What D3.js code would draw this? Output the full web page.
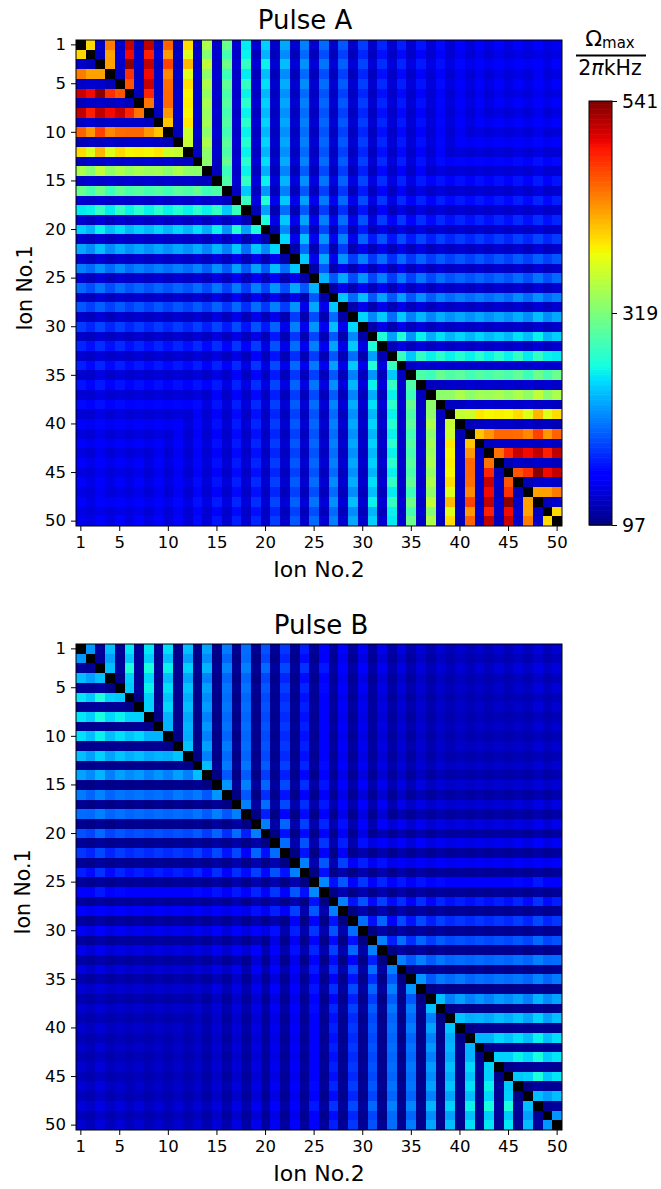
<!DOCTYPE html>
<html><head><meta charset="utf-8">
<script src="https://cdn.jsdelivr.net/npm/d3@7/dist/d3.min.js"></script>
<style>html,body{margin:0;padding:0;background:#fff}svg{display:block}text{font-family:"DejaVu Sans",sans-serif;fill:#000}</style>
</head><body><svg id="c" width="661" height="1189"></svg>
<script>
// Each row: one ion-2 column (2..50), values for ion-1 = 1.. up to the anti-diagonal (kHz).
// The rest of the matrix follows from the picture's mirror symmetries.
const pulseA = [
[399],
[125,120],
[443,425,425],
[124,128,126,118],
[514,497,537,479,461],
[120,125,126,122,125,118],
[517,487,517,497,514,484,447],
[122,128,122,125,125,125,125,120],
[455,430,470,437,450,452,452,430,408],
[118,122,120,125,122,126,124,126,122,118],
[397,372,415,372,397,385,388,385,392,362,358],
[122,126,124,128,126,128,126,128,126,128,122,122],
[345,325,355,330,345,332,343,336,340,328,345,330,328],
[124,128,125,129,126,128,126,128,126,128,124,126,122,120],
[310,290,312,285,305,292,300,290,298,288,302,295,308,285,295],
[128,124,130,124,128,125,128,124,128,124,128,124,130,124,128,122],
[255,258,280,255,280,258,275,258,275,258,272,258,275,258,280,240,283],
[128,120,130,120,128,122,128,122,128,122,128,122,130,120,132,120,134,117],
[243,231,258,235,250,232,243,233,245,232,245,232,250,228,258,218,270,222,268],
[126,120,128,120,127,122,127,122,127,122,127,122,128,120,132,120,138,116,136,113],
[226,213,235,213,228,215,225,215,225,215,225,215,228,210,232,208,240,200,240,212,246],
[128,120,130,120,128,122,128,122,128,122,128,122,130,120,133,120,138,117,138,116,138,113],
[208,198,215,198,213,198,208,200,208,200,208,198,210,192,215,190,222,190,224,190,235,198,240],
[128,120,130,120,128,122,128,122,128,122,128,122,130,120,134,120,140,118,140,118,142,116,138,112],
[198,186,203,186,200,188,197,188,197,188,197,188,200,184,204,180,206,178,208,182,218,185,226,190,231],
[126,120,130,120,128,122,128,122,128,122,128,122,130,120,134,120,140,118,140,118,140,116,138,114],
[190,180,194,180,192,180,190,180,190,180,190,180,192,178,195,176,198,172,200,176,208,178,216],
[126,120,130,120,128,122,128,122,128,122,128,122,130,120,134,120,138,118,138,118,138,116],
[178,168,182,168,180,168,178,168,178,168,178,168,180,165,182,163,185,160,188,162,195],
[126,122,130,122,128,122,128,122,128,122,128,122,130,122,134,122,136,120,136,118],
[168,158,172,158,170,158,168,158,168,158,168,158,170,155,172,153,175,150,178],
[128,124,132,124,130,124,130,124,130,124,130,124,132,124,134,122,136,120],
[165,155,168,155,165,155,163,155,163,155,163,155,165,152,167,150,170],
[128,126,134,126,132,126,130,126,130,126,130,126,132,124,136,124],
[160,150,163,150,160,150,158,150,158,150,158,150,160,148,163],
[130,128,136,128,132,128,132,128,132,128,132,128,134,126],
[155,146,158,146,156,146,154,146,154,146,154,146,156],
[130,128,136,128,134,128,132,128,132,128,132,128],
[150,142,154,142,152,142,150,142,150,142,150],
[132,130,138,130,134,130,134,130,134,130],
[148,140,152,140,150,140,148,140,148],
[134,130,140,130,136,130,134,130],
[146,138,150,138,148,138,147],
[134,132,140,132,136,132],
[145,137,150,137,147],
[136,132,142,132],
[145,137,150],
[136,132],
[140]
];
const pulseB = [
[218],
[108,104],
[235,222,235],
[106,104,108,100],
[253,240,268,244,240],
[104,106,108,104,106,100],
[253,242,265,247,258,244,244],
[104,102,106,102,104,102,106,100],
[250,235,258,235,250,238,247,231,231],
[102,102,104,102,104,102,104,102,104,100],
[235,222,244,224,238,228,235,226,231,228,238],
[102,100,104,100,103,100,103,100,103,100,103,99],
[224,213,231,208,222,213,220,208,218,208,222,208,235],
[102,100,104,100,103,100,103,100,103,100,103,100,104,98],
[206,196,210,196,204,200,204,198,202,196,206,198,206,190,218],
[104,100,105,100,104,100,104,100,104,100,104,100,105,100,106,98],
[200,198,208,196,202,196,200,196,200,196,200,196,204,192,208,190,208],
[104,100,105,100,104,102,104,102,104,102,104,102,105,100,108,100,110,98],
[188,182,198,182,190,184,188,184,188,184,188,184,192,178,196,172,200,165,208],
[106,102,108,102,106,103,106,103,106,103,106,103,108,102,110,102,112,100,112,98],
[176,168,184,168,178,170,176,170,176,170,176,170,180,165,184,160,184,150,196,158,200],
[106,102,108,102,106,103,106,103,106,103,106,103,108,102,110,102,114,100,114,100,114,98],
[165,156,174,156,168,158,165,158,165,158,165,158,168,154,172,150,172,156,180,155,188,160,208],
[107,103,109,103,107,104,107,104,107,104,107,104,109,103,111,103,114,101,115,101,115,100,115,98],
[152,148,162,148,155,148,152,148,152,148,152,148,156,146,160,144,162,148,168,150,175,152,190,158,212],
[108,104,110,104,108,105,108,105,108,105,108,105,110,104,112,104,115,102,115,102,115,100,114,100],
[146,140,150,140,146,140,144,140,144,140,144,140,146,138,150,138,152,138,158,142,165,144,180],
[109,105,111,105,109,106,109,106,109,106,109,106,111,105,113,105,115,103,115,103,115,102],
[142,136,146,136,142,136,140,136,140,136,140,136,142,134,146,132,148,135,152,136,158],
[110,106,112,106,110,107,110,107,110,107,110,107,112,106,114,106,116,104,116,104],
[138,130,140,130,136,130,134,130,134,130,134,130,136,128,140,128,142,130,146],
[112,108,114,108,112,108,112,108,112,108,112,108,114,108,116,106,116,104],
[134,126,136,126,132,126,130,126,130,126,130,126,132,125,136,124,138],
[114,110,116,110,114,110,114,110,114,110,114,110,116,108,118,108],
[130,124,132,124,128,124,128,124,128,124,128,124,130,122,134],
[116,112,118,112,116,112,116,112,116,112,116,112,118,110],
[128,122,130,122,126,122,126,122,126,122,126,122,128],
[118,114,120,114,118,114,118,114,118,114,118,114],
[127,121,130,121,125,121,125,121,125,121,125],
[118,115,120,115,118,115,118,115,118,115],
[127,120,130,120,125,120,125,120,125],
[118,115,121,115,118,115,118,115],
[128,120,131,120,126,120,126],
[119,116,122,116,119,116],
[130,122,133,122,127],
[120,116,124,116],
[132,124,136],
[120,116],
[128]
];
const ions = d3.range(1, 51);
const tickLabels = [1, 5, 10, 15, 20, 25, 30, 35, 40, 45, 50];
const colorTicks = [97, 319, 541];
const vMin = 97, vMax = 541;

const red = d3.scaleLinear().domain([0,.35,.66,.89,1]).range([0,0,1,1,.5]);
const green = d3.scaleLinear().domain([0,.125,.375,.64,.91,1]).range([0,0,1,1,0,0]);
const blue = d3.scaleLinear().domain([0,.11,.34,.65,1]).range([.5,1,1,0,0]);
const norm = d3.scaleLinear().domain([vMin, vMax]).range([0, 1]).clamp(true);
const jet = v => { const t = norm(v); return d3.rgb(red(t)*255, green(t)*255, blue(t)*255).formatHex(); };

const svg = d3.select("#c");
const cell = (m, i, j) => {
  if (i === j) return null;
  if (i > j) [i, j] = [j, i];
  if (i + j > 51) [i, j] = [51 - j, 51 - i];
  return m[j - 2][i - 1];
};

function heat(m, title, top, titleX, titleY, labelX) {
  const left = 76, size = 486;
  const x = d3.scaleBand().domain(ions).range([left, left + size]);
  const y = d3.scaleBand().domain(ions).range([top, top + size]);
  const g = svg.append("g");
  const cells = ions.flatMap(i => ions.map(j => ({i, j, v: cell(m, i, j)})));
  g.selectAll("rect").data(cells).join("rect")
    .attr("x", d => x(d.j)).attr("y", d => y(d.i))
    .attr("width", x.bandwidth()).attr("height", y.bandwidth())
    .attr("shape-rendering", "crispEdges")
    .attr("fill", d => d.v === null ? "#000" : jet(d.v));
  const ax = svg.append("g").attr("transform", `translate(0,${top + size})`)
    .call(d3.axisBottom(x).tickValues(tickLabels).tickSize(5).tickPadding(5));
  const ay = svg.append("g").attr("transform", `translate(${left},0)`)
    .call(d3.axisLeft(y).tickValues(tickLabels).tickSize(5).tickPadding(5));
  [ax, ay].forEach(a => {
    a.selectAll("text").style("font-size", "16.5px").style("font-family", '"DejaVu Sans"');
    a.selectAll("line,path").attr("stroke", "#000").attr("stroke-width", 1);
    a.select("path").attr("d", null);
  });
  svg.append("rect").attr("x", left).attr("y", top).attr("width", size).attr("height", size)
    .attr("fill", "none").attr("stroke", "#000").attr("stroke-width", 1);
  svg.append("text").attr("x", titleX).attr("y", titleY).attr("text-anchor", "middle")
    .style("font-size", "26px").text(title);
  svg.append("text").attr("x", left + size / 2).attr("y", top + size + 51).attr("text-anchor", "middle")
    .style("font-size", "22px").text("Ion No.2");
  svg.append("text").attr("transform", `translate(${labelX},${top + size / 2 + 5}) rotate(-90)`).attr("text-anchor", "middle")
    .style("font-size", "20.5px").text("Ion No.1");
}
heat(pulseA, "Pulse A", 40, 305, 29, 32);
heat(pulseB, "Pulse B", 644, 321, 634, 30);

// colour bar
const cbTop = 101, cbBottom = 525, cbLeft = 589, cbRight = 612;
const cy = d3.scaleLinear().domain([vMin, vMax]).range([cbBottom, cbTop]);
const steps = d3.range(vMin, vMax, (vMax - vMin) / 256);
svg.append("g").selectAll("rect").data(steps).join("rect")
  .attr("x", cbLeft).attr("width", cbRight - cbLeft)
  .attr("y", d => cy(d + (vMax - vMin) / 256)).attr("height", (cbBottom - cbTop) / 256 + .6)
  .attr("fill", d => jet(d + (vMax - vMin) / 512));
svg.append("rect").attr("x", cbLeft).attr("y", cbTop).attr("width", cbRight - cbLeft).attr("height", cbBottom - cbTop)
  .attr("fill", "none").attr("stroke", "#000").attr("stroke-width", 1);
const cax = svg.append("g").attr("transform", `translate(${cbRight},0)`)
  .call(d3.axisRight(cy).tickValues(colorTicks).tickSize(5).tickPadding(5).tickFormat(d3.format("d")));
cax.select("path").remove();
cax.selectAll("text").style("font-size", "19px").style("font-family", '"DejaVu Sans"');
cax.selectAll("line").attr("stroke", "#000");

// colour bar title
const t1 = svg.append("text").attr("x", 610).attr("y", 46).attr("text-anchor", "middle").style("font-size", "22px");
t1.append("tspan").text("Ω");
t1.append("tspan").attr("dy", 2).style("font-size", "15px").text("max");
svg.append("line").attr("x1", 576).attr("x2", 646).attr("y1", 55.5).attr("y2", 55.5).attr("stroke", "#000").attr("stroke-width", 1.8);
const t2 = svg.append("text").attr("x", 610).attr("y", 75).attr("text-anchor", "middle").style("font-size", "20.5px");
t2.append("tspan").text("2");
t2.append("tspan").style("font-style", "italic").text("π");
t2.append("tspan").text("kHz");
</script></body></html>
